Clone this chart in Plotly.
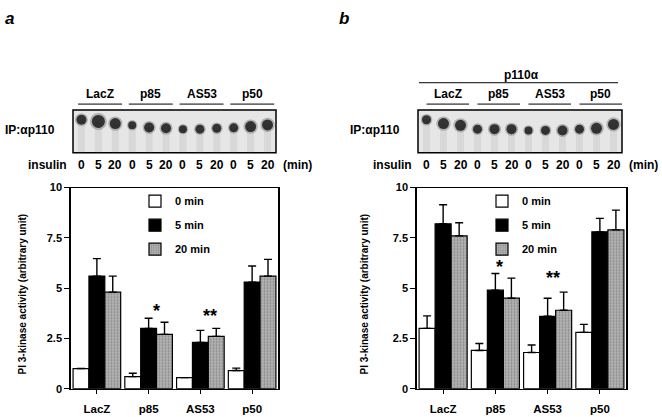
import plotly.graph_objects as go

# ---------------- data ----------------
groups = ["LacZ", "p85", "AS53", "p50"]
series_names = ["0 min", "5 min", "20 min"]

a_0min = [1.0, 0.6, 0.55, 0.9]
a_5min = [5.6, 3.0, 2.3, 5.3]
a_20min = [4.8, 2.7, 2.6, 5.6]
a_0min_sem = [0.0, 0.17, 0.0, 0.12]
a_5min_sem = [0.87, 0.5, 0.6, 0.8]
a_20min_sem = [0.8, 0.6, 0.4, 0.83]

b_0min = [3.0, 1.9, 1.8, 2.8]
b_5min = [8.2, 4.9, 3.6, 7.8]
b_20min = [7.6, 4.5, 3.9, 7.9]
b_0min_sem = [0.62, 0.35, 0.37, 0.4]
b_5min_sem = [0.95, 0.83, 0.9, 0.67]
b_20min_sem = [0.65, 1.0, 0.9, 0.98]

y_ticks = [0, 2.5, 5, 7.5, 10]
y_tick_labels = ["0", "2.5", "5", "7.5", "10"]

insulin_times = ["0", "5", "20"]
lanes = list(range(12))
# blot spot migration (fraction of blot height) and spot size (intensity)
blot_a_pos = [0.77, 0.73, 0.68, 0.64, 0.59, 0.57, 0.55, 0.55, 0.57, 0.58, 0.61, 0.65]
blot_a_size = [10, 13, 11, 8, 10, 10, 8, 9, 9, 9, 11, 11]
blot_b_pos = [0.77, 0.68, 0.64, 0.55, 0.55, 0.55, 0.52, 0.52, 0.52, 0.55, 0.57, 0.66]
blot_b_size = [9, 11, 11, 9, 10, 10, 8, 9, 10, 9, 11, 11]

ytitle = "PI 3-kinase activity (arbitrary unit)"

FONT = "Liberation Sans, Arial, sans-serif"
W, H = 662, 417

fig = go.Figure()

styles = [
    dict(color="white", line=dict(color="black", width=1.2)),
    dict(color="black", line=dict(color="black", width=1.2)),
    dict(color="#a8a8a8", line=dict(color="black", width=1.2),
         pattern=dict(shape=".", fgcolor="#5a5a5a", bgcolor="#b4b4b4", size=3, solidity=0.35)),
]

def add_panel(vals, sems, xa, ya, legend):
    for i, (v, s) in enumerate(zip(vals, sems)):
        fig.add_trace(go.Bar(
            x=groups, y=v, name=series_names[i], xaxis=xa, yaxis=ya,
            marker=styles[i], legend=legend, legendgroup=legend + str(i),
            error_y=dict(type="data", symmetric=False, array=s,
                         arrayminus=[0] * len(s), color="black",
                         thickness=1.4, width=4),
        ))

add_panel([a_0min, a_5min, a_20min], [a_0min_sem, a_5min_sem, a_20min_sem], "x", "y", "legend")
add_panel([b_0min, b_5min, b_20min], [b_0min_sem, b_5min_sem, b_20min_sem], "x2", "y2", "legend2")

# blots
def add_blot(pos, size, xa, ya):
    fig.add_trace(go.Scatter(
        x=lanes, y=pos, xaxis=xa, yaxis=ya, mode="markers", showlegend=False,
        marker=dict(size=[s * 1.1 for s in size], color="rgba(0,0,0,0)"),
        error_y=dict(type="data", symmetric=False, array=[0] * 12, arrayminus=pos,
                     color="rgba(120,120,120,0.13)", thickness=7, width=0),
        hoverinfo="skip"))
    fig.add_trace(go.Scatter(
        x=lanes, y=pos, xaxis=xa, yaxis=ya, mode="markers", showlegend=False,
        marker=dict(size=[s * 1.3 for s in size], color="rgba(20,20,20,0.4)", line=dict(width=0)),
        hoverinfo="skip"))
    fig.add_trace(go.Scatter(
        x=lanes, y=pos, xaxis=xa, yaxis=ya, mode="markers", showlegend=False,
        marker=dict(size=size, color="#000000", line=dict(width=0)),
        hoverinfo="skip"))

add_blot(blot_a_pos, blot_a_size, "x3", "y3")
add_blot(blot_b_pos, blot_b_size, "x4", "y4")

ydom = [1 - 394 / H, 1 - 187 / H]
blot_ydom = [1 - 151 / H, 1 - 107 / H]

def bar_xaxis(dom):
    return dict(domain=dom, range=[-0.5, 3.5], showline=True, linecolor="black", linewidth=1.2,
                mirror=True, ticks="outside", ticklen=4, tickcolor="black", tickwidth=1.2,
                ticklabelstandoff=5,
                tickfont=dict(family=FONT, size=11.5, color="black", weight="bold"),
                showgrid=False, zeroline=False, fixedrange=True)

def bar_yaxis(dom, anchor):
    return dict(domain=dom, anchor=anchor, range=[0, 10], tickvals=y_ticks, ticktext=y_tick_labels,
                showline=True, linecolor="black", linewidth=1.5, mirror=True,
                ticks="outside", ticklen=5, tickcolor="black", tickwidth=1.2,
                tickfont=dict(family=FONT, size=11, color="black", weight="bold"),
                showgrid=False, zeroline=False, fixedrange=True)

xa_dom = [71 / W, 278 / W]
xb_dom = [417 / W, 626 / W]
blot_a_dom = [73 / W, 276 / W]
blot_b_dom = [418 / W, 622 / W]

leg_font = dict(family=FONT, size=11, color="black", weight="bold")

fig.update_layout(
    width=W, height=H, margin=dict(l=0, r=0, t=0, b=0),
    paper_bgcolor="white", plot_bgcolor="white",
    barmode="group", bargap=0.08, bargroupgap=0,
    xaxis=dict(anchor="y", **bar_xaxis(xa_dom)),
    yaxis=bar_yaxis(ydom, "x"),
    xaxis2=dict(anchor="y2", **bar_xaxis(xb_dom)),
    yaxis2=bar_yaxis(ydom, "x2"),
    xaxis3=dict(domain=blot_a_dom, anchor="y3", range=[-0.5, 11.5], visible=False, fixedrange=True),
    yaxis3=dict(domain=blot_ydom, anchor="x3", range=[0, 1], visible=False, fixedrange=True),
    xaxis4=dict(domain=blot_b_dom, anchor="y4", range=[-0.5, 11.5], visible=False, fixedrange=True),
    yaxis4=dict(domain=blot_ydom, anchor="x4", range=[0, 1], visible=False, fixedrange=True),
    legend=dict(x=135 / W, y=1 - 186 / H, xanchor="left", yanchor="top", font=leg_font,
                bgcolor="rgba(0,0,0,0)", tracegroupgap=5, traceorder="grouped"),
    legend2=dict(x=482 / W, y=1 - 186 / H, xanchor="left", yanchor="top", font=leg_font,
                 bgcolor="rgba(0,0,0,0)", tracegroupgap=5, traceorder="grouped"),
    showlegend=True,
)

shapes = []
annotations = []

# blot backgrounds
for xa, ya in [("x3", "y3"), ("x4", "y4")]:
    shapes.append(dict(type="rect", xref=xa + " domain", yref=ya + " domain", x0=0, x1=1, y0=0, y1=1,
                       fillcolor="#e6e6e6", line=dict(color="black", width=1.5), layer="below"))

def txt(text, x, y, xref="paper", yref="paper", size=12, xanchor="center", style="normal", angle=0):
    annotations.append(dict(text=text, x=x, y=y, xref=xref, yref=yref, showarrow=False,
                            xanchor=xanchor, yanchor="middle", textangle=angle,
                            font=dict(family=FONT, size=size, color="black", weight="bold", style=style)))

# group labels + underlines over blots
for xa, offs in [("x3", (-0.2, 2.4)), ("x4", (0.0, 2.5))]:
    for g, name in enumerate(groups):
        x0 = 3 * g + offs[0]
        x1 = 3 * g + offs[1]
        shapes.append(dict(type="line", xref=xa, yref="paper", x0=x0, x1=x1,
                           y0=1 - 101 / H, y1=1 - 101 / H, line=dict(color="black", width=1)))
        txt(name, (x0 + x1) / 2, 1 - 91 / H, xref=xa)
    for lane in lanes:
        txt(insulin_times[lane % 3], lane, 1 - 164 / H, xref=xa)

# p110α header
shapes.append(dict(type="line", xref="paper", yref="paper", x0=419 / W, x1=618 / W,
                   y0=1 - 79 / H, y1=1 - 79 / H, line=dict(color="black", width=1)))
txt("p110α", 521 / W, 1 - 71 / H)

txt("IP:αp110", 3 / W, 1 - 128 / H, xanchor="left")
txt("IP:αp110", 348 / W, 1 - 128 / H, xanchor="left")
txt("insulin", 69 / W, 1 - 164 / H, xanchor="right")
txt("insulin", 414 / W, 1 - 164 / H, xanchor="right")
txt("(min)", 297 / W, 1 - 164 / H)
txt("(min)", 643 / W, 1 - 164 / H)

txt("a", 3 / W, 1 - 13 / H, xanchor="left", size=17, style="italic")
txt("b", 337 / W, 1 - 13 / H, xanchor="left", size=17, style="italic")

txt(ytitle, 22 / W, 1 - 297 / H, size=10, angle=-90)
txt(ytitle, 364 / W, 1 - 297 / H, size=10, angle=-90)

# significance stars
txt("*", 1.16, 3.85, xref="x", yref="y", size=18)
txt("**", 2.19, 3.6, xref="x", yref="y", size=18)
txt("*", 1.07, 6.05, xref="x2", yref="y2", size=18)
txt("**", 2.1, 5.5, xref="x2", yref="y2", size=18)

fig.update_layout(shapes=shapes, annotations=annotations)

fig.write_html("out.html", config={"displayModeBar": False},
               post_script="document.body.style.margin='0px';")
